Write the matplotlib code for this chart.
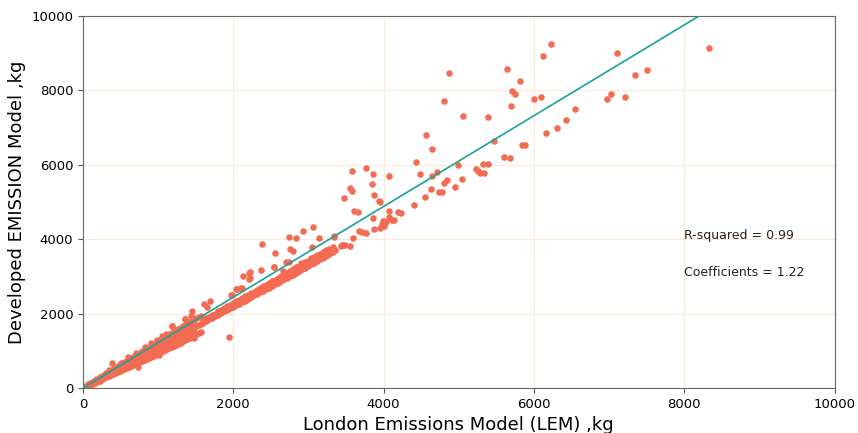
import numpy as np
import matplotlib
matplotlib.use('Agg')
from matplotlib import pyplot as plt

# ! values (kg)

# dense band near the origin, three rows per x
band_x = [10, 40, 70, 100, 130, 160, 190, 220, 250, 280,
          310, 340, 370, 400, 430, 460, 490, 520, 550, 580,
          610, 640, 670, 700, 730, 760, 790, 820, 850, 880,
          910, 940, 970, 1000, 1030, 1060, 1090, 1120, 1150, 1180,
          1210, 1240, 1270, 1300, 1330, 1360, 1390, 1420, 1450, 1480,
          1510, 1540, 1570]
band_hi = [20, 55, 95, 130, 170, 205, 240, 285, 320, 350,
           395, 430, 465, 505, 540, 580, 610, 655, 690, 720,
           770, 800, 840, 880, 915, 950, 995, 1030, 1060, 1110,
           1140, 1180, 1220, 1260, 1290, 1330, 1360, 1400, 1450, 1480,
           1510, 1560, 1590, 1620, 1670, 1700, 1730, 1770, 1800, 1830,
           1870, 1900, 1930]
band_mid = [12, 42, 78, 112, 140, 178, 205, 245, 272, 310,
            340, 372, 410, 440, 470, 508, 540, 570, 605, 640,
            668, 705, 735, 770, 800, 838, 870, 900, 935, 970,
            1000, 1035, 1065, 1100, 1130, 1165, 1200, 1230, 1265, 1300,
            1330, 1365, 1395, 1430, 1460, 1495, 1530, 1560, 1595, 1625,
            1660, 1690, 1725]
band_lo = [5, 32, 60, 88, 118, 145, 172, 200, 228, 255,
           285, 310, 340, 368, 395, 420, 452, 480, 505, 535,
           560, 590, 615, 645, 672, 700, 728, 760, 785, 815,
           840, 870, 900, 925, 955, 985, 1010, 1040, 1070, 1095,
           1125, 1160, 1190, 1220, 1255, 1285, 1320, 1350, 1385, 1415,
           1445, 1480, 1510]

# in-between points of the same band
extra_x = [25, 55, 85, 115, 145, 175, 205, 235, 265, 295,
           325, 355, 385, 415, 445, 475, 505, 535, 565, 595,
           625, 655, 685, 715, 745, 775, 805, 835, 865, 895,
           925, 955, 985, 1015, 1045, 1075, 1105, 1135, 1165, 1195,
           1225, 1255, 1285, 1315, 1345, 1375, 1405, 1435, 1465, 1495]
extra_y = [30, 60, 90, 135, 150, 200, 215, 270, 285, 340,
           345, 410, 405, 475, 470, 540, 530, 610, 595, 690,
           650, 760, 720, 830, 780, 900, 830, 970, 900, 1050,
           970, 1120, 1030, 1190, 1090, 1260, 1150, 1320, 1230, 1380,
           1290, 1450, 1340, 1510, 1420, 1560, 1480, 1630, 1540, 1700]

# thinner band further up
band2_x = [1600, 1640, 1680, 1720, 1760, 1800, 1840, 1880, 1920, 1960,
           2000, 2040, 2080, 2120, 2160, 2200, 2240, 2280, 2320, 2360,
           2400, 2440, 2480, 2520, 2560, 2600, 2640, 2680, 2720, 2760,
           2800, 2840, 2880, 2920, 2960, 3000, 3040, 3080, 3120, 3160,
           3200, 3240, 3280, 3320]
band2_a = [1760, 1790, 1850, 1880, 1930, 1975, 2010, 2060, 2100, 2140,
           2190, 2230, 2270, 2320, 2350, 2400, 2440, 2490, 2520, 2570,
           2610, 2660, 2700, 2740, 2790, 2830, 2880, 2920, 2960, 3010,
           3050, 3100, 3140, 3190, 3230, 3280, 3320, 3370, 3410, 3460,
           3500, 3550, 3600, 3650]
band2_b = [1830, 1880, 1910, 1970, 2000, 2060, 2100, 2140, 2200, 2240,
           2280, 2330, 2370, 2410, 2460, 2500, 2550, 2590, 2640, 2680,
           2730, 2770, 2820, 2870, 2900, 2950, 3000, 3050, 3090, 3140,
           3190, 3240, 3280, 3330, 3380, 3420, 3470, 3510, 3570, 3610,
           3660, 3700, 3740, 3790]

# scattered points
lem = [8329, 7100, 7343, 7498, 7020, 6972, 7215,
       6233, 6119, 5647, 5819, 4868, 4810, 5709, 5753, 5995, 6097, 5696, 6551,
       5057, 5383, 6432, 6308, 6163, 4559, 4648, 5471, 5837, 5881, 5599, 5678,
       4427, 4991, 5321, 5392, 5229, 5251, 5286, 5330, 4480, 4714, 4639, 5048,
       4837, 4797, 4951, 4634, 4731, 4771, 4546, 4405,
       3577, 3767, 3855, 4075, 3555, 3577, 3841, 3872, 3476, 3934, 3952,
       3608, 3665, 4066, 4194, 4234, 3863, 3987, 4075, 4106, 4141, 4031, 3978,
       3952, 4009, 3868, 3670, 3714, 3771, 3599, 3555, 3489, 3454, 3428, 3344,
       3344, 3300,
       3061, 2934, 2744, 2832, 3145, 2383, 2550, 2753, 2788, 3048, 3335, 3299,
       3348, 2370, 2123, 2220, 2216, 2542, 2665, 2735, 2110, 1978, 1696, 1612,
       1647, 1357, 1476, 1938, 1181, 1009, 727, 388,
       2215, 2215, 2051, 1963, 1450, 1441, 1362, 1185, 2104, 2038, 2900, 2706,
       2538, 2613, 2480, 3037, 3452,
       1050, 1100, 1150, 980, 900, 820, 700, 600, 500, 350]
dem = [9140, 9005, 8406, 8540, 7914, 7769, 7815,
       9235, 8912, 8563, 8249, 8455, 7712, 7981, 7891, 7766, 7828, 7587, 7488,
       7309, 7273, 7192, 6995, 6843, 6798, 6431, 6637, 6539, 6530, 6216, 6180,
       6064, 5983, 6019, 6019, 5894, 5831, 5786, 5777, 5759, 5804, 5706, 5616,
       5580, 5500, 5392, 5347, 5276, 5276, 5124, 4909,
       5822, 5903, 5750, 5697, 5374, 5294, 5482, 5195, 5097, 5016, 5007,
       4756, 4720, 4765, 4738, 4693, 4577, 4479, 4604, 4523, 4514, 4452, 4407,
       4290, 4362, 4273, 4228, 4183, 4174, 4022, 3807, 3852, 3834, 3816, 4066,
       3699, 3681,
       4326, 4219, 4066, 4022, 4022, 3869, 3637, 3744, 3681, 3789, 4093, 3699,
       3708, 3162, 3018, 3126, 2947, 3251, 3135, 3395, 2687, 2499, 2338, 2248,
       2177, 1845, 1352, 1370, 1666, 878, 564, 681,
       3102, 2941, 2672, 2492, 2070, 1935, 1865, 1677, 2688, 2653, 3360, 3379,
       3253, 2895, 2788, 3487, 3855,
       1400, 1450, 1420, 1300, 1200, 1100, 950, 820, 680, 470]

r2 = 0.99
coef = 1.22

x_all = np.array(band_x * 3 + extra_x + band2_x * 2 + lem)
y_all = np.array(band_hi + band_mid + band_lo + extra_y + band2_a + band2_b + dem)

fig = plt.figure(figsize=(8.58, 4.33), dpi=100)
ax = fig.add_axes([0.0967, 0.104, 0.876, 0.859])

ax.scatter(x_all, y_all, s=22, color='#f26b52', linewidths=0, zorder=2)
fit_x = np.array([0, 10000])
ax.plot(fit_x, coef * fit_x, color='#17a398', lw=1.2, zorder=3)

ax.text(8000, 4000, 'R-squared = %.2f' % r2, fontsize=9, color='#222222')
ax.text(8000, 3000, 'Coefficients = %.2f' % coef, fontsize=9, color='#222222')

ax.set_xlim(0, 10000)
ax.set_ylim(0, 10000)
ax.set_xticks(np.arange(0, 10001, 2000))
ax.set_yticks(np.arange(0, 10001, 2000))
ax.tick_params(labelsize=9.5, color='#555555')
ax.grid(True, color='#fde8d4', lw=0.8, zorder=0)
ax.set_axisbelow(True)
for s in ax.spines.values():
    s.set_color('#666666')

ax.set_xlabel('London Emissions Model (LEM) ,kg', fontsize=13)
ax.set_ylabel('Developed EMISSION Model ,kg', fontsize=13)

plt.savefig('out.png')
